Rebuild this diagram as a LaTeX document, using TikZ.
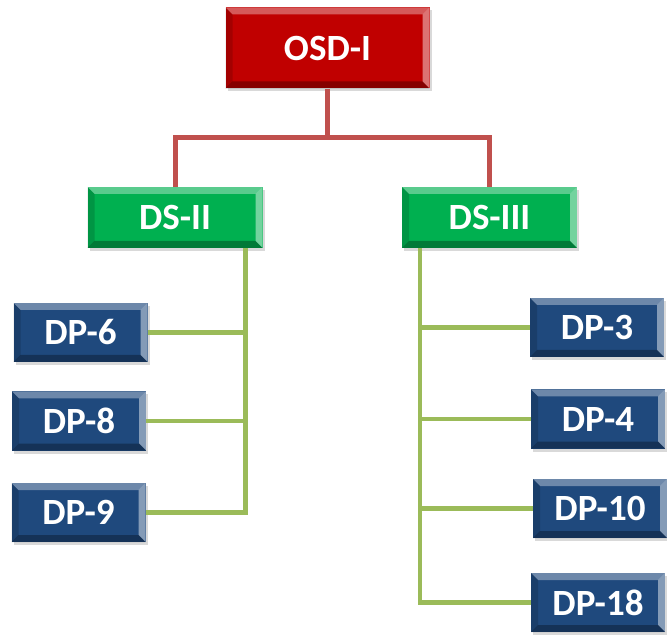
\documentclass[tikz,border=0pt]{standalone}
\usepackage{fontspec}
\setmainfont{Carlito}
\usetikzlibrary{calc,shadows}

\definecolor{osdred}{HTML}{C00000}
\definecolor{dsgreen}{HTML}{00B050}
\definecolor{dpblue}{HTML}{1F497D}
\definecolor{redline}{HTML}{C0504D}
\definecolor{greenline}{HTML}{9BBB59}

\tikzset{
    bevel/.style={path picture={
        \fill[white,opacity=.35] (path picture bounding box.north west) -- (path picture bounding box.north east)
            -- ([shift={(-7pt,-7pt)}]path picture bounding box.north east) -- ([shift={(7pt,-7pt)}]path picture bounding box.north west) -- cycle;
        \fill[white,opacity=.45] (path picture bounding box.north east) -- (path picture bounding box.south east)
            -- ([shift={(-7pt,7pt)}]path picture bounding box.south east) -- ([shift={(-7pt,-7pt)}]path picture bounding box.north east) -- cycle;
        \fill[black,opacity=.3] (path picture bounding box.south west) -- (path picture bounding box.south east)
            -- ([shift={(-7pt,7pt)}]path picture bounding box.south east) -- ([shift={(7pt,7pt)}]path picture bounding box.south west) -- cycle;
        \fill[black,opacity=.15] (path picture bounding box.north west) -- (path picture bounding box.south west)
            -- ([shift={(7pt,7pt)}]path picture bounding box.south west) -- ([shift={(7pt,-7pt)}]path picture bounding box.north west) -- cycle;
    }},
    box/.style={rectangle, bevel, text=white, inner sep=0pt,
        font=\fontsize{37}{42}\selectfont\bfseries,
        drop shadow={shadow xshift=2pt, shadow yshift=-3pt, opacity=.3}},
    osdbox/.style={box, fill=osdred, minimum width=204pt, minimum height=81pt},
    dsbox/.style={box, fill=dsgreen, minimum width=175pt, minimum height=61pt},
    dpbox/.style={box, fill=dpblue, minimum width=134pt, minimum height=59pt},
    redlink/.style={draw=redline, line width=5pt},
    greenlink/.style={draw=greenline, line width=4.5pt},
}

\begin{document}
\begin{tikzpicture}[x=1pt, y=-1pt]
    \useasboundingbox (0,0) rectangle (667,636);

    % top
    \node[osdbox] (osd) at (327.5, 48) {OSD-I};

    % second level
    \node[dsbox] (ds2) at (175, 217.5) {DS-II};
    \node[dsbox] (ds3) at (489.5, 217.5) {DS-III};

    % left group
    \node[dpbox] (dp6) at (80.5, 332.5) {DP-6};
    \node[dpbox] (dp8) at (79, 421) {DP-8};
    \node[dpbox] (dp9) at (78.5, 512.5) {DP-9};

    % right group
    \node[dpbox] (dp3) at (597, 327.5) {DP-3};
    \node[dpbox] (dp4) at (598, 419) {DP-4};
    \node[dpbox] (dp10) at (600, 508.5) {DP-10};
    \node[dpbox] (dp18) at (598, 602.5) {DP-18};

    \coordinate (bus) at ($(osd.south)+(0,49)$);
    \coordinate (left) at ($(ds2.south east)+(-17,0)$);
    \coordinate (right) at ($(ds3.south west)+(18,0)$);

    \draw[redlink] (osd.south) -- (bus) -| (ds2.north);
    \draw[redlink] (bus) -| (ds3.north);

    \draw[greenlink] (left) |- (dp9.east);
    \draw[greenlink] (dp6.east) -| (left);
    \draw[greenlink] (dp8.east) -| (left);

    \draw[greenlink] (right) |- (dp18.west);
    \draw[greenlink] (dp3.west) -| (right);
    \draw[greenlink] (dp4.west) -| (right);
    \draw[greenlink] (dp10.west) -| (right);
\end{tikzpicture}
\end{document}
